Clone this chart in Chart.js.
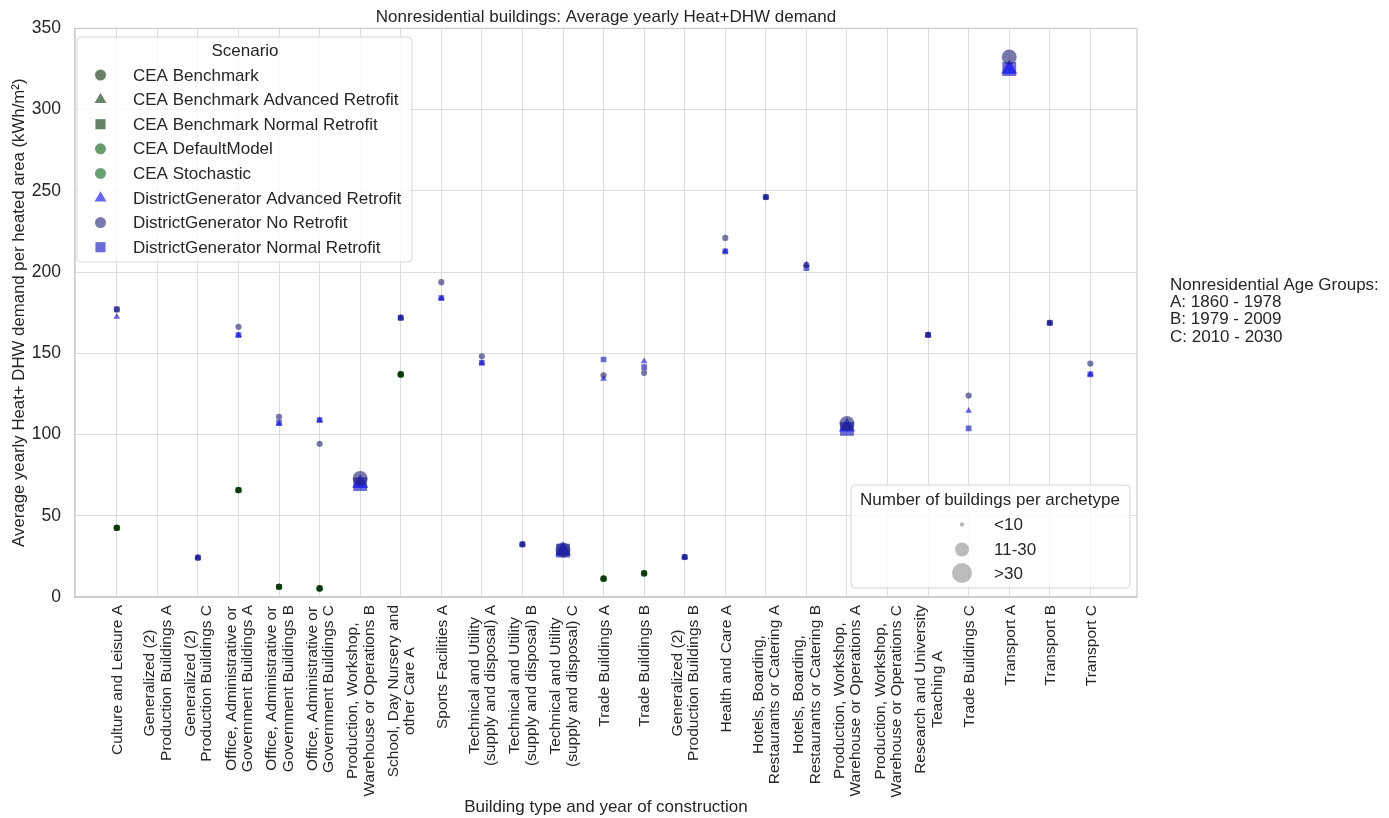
<!DOCTYPE html>
<html>
<head>
<meta charset="utf-8">
<title>Nonresidential buildings: Average yearly Heat+DHW demand</title>
<script src="https://cdn.jsdelivr.net/npm/chart.js@4.4.1/dist/chart.umd.min.js"></script>
<style>
  html, body { margin: 0; padding: 0; background: #fff; }
  #wrap { width: 1389px; height: 818px; }
</style>
</head>
<body>
<div id="wrap"><canvas id="chart"></canvas></div>
<script>
// x categories (building type + age group)
const categories = [
  'Culture and Leisure A',
  ['Generalized (2)', 'Production Buildings A'],
  ['Generalized (2)', 'Production Buildings C'],
  ['Office, Administrative or', 'Government Buildings A'],
  ['Office, Administrative or', 'Government Buildings B'],
  ['Office, Administrative or', 'Government Buildings C'],
  ['Production, Workshop,', 'Warehouse or Operations B'],
  ['School, Day Nursery and', 'other Care A'],
  'Sports Facilities A',
  ['Technical and Utility', '(supply and disposal) A'],
  ['Technical and Utility', '(supply and disposal) B'],
  ['Technical and Utility', '(supply and disposal) C'],
  'Trade Buildings A',
  'Trade Buildings B',
  ['Generalized (2)', 'Production Buildings B'],
  'Health and Care A',
  ['Hotels, Boarding,', 'Restaurants or Catering A'],
  ['Hotels, Boarding,', 'Restaurants or Catering B'],
  ['Production, Workshop,', 'Warehouse or Operations A'],
  ['Production, Workshop,', 'Warehouse or Operations C'],
  ['Research and University', 'Teaching A'],
  'Trade Buildings C',
  'Transport A',
  'Transport B',
  'Transport C'
]

// number of buildings per archetype (size class) for each category
const buildingGroup = ['<10', '<10', '<10', '<10', '<10', '<10', '>30', '<10', '<10', '<10', '<10', '>30', '<10',
  '<10', '<10', '<10', '<10', '<10', '>30', '<10', '<10', '<10', '>30', '<10', '<10']
const sizeGroups = ['<10', '11-30', '>30']

// kWh/m2 per category, null = no value
const ceaBenchmark = [42.6, null, null, 65.8, 6.3, 5.3, null, 137, null, null, null, null, 11.3, 14.6, null, null, null, null, null, null, null, null, null, null, null]
const ceaBenchmarkAdvanced = [42.6, null, null, 65.8, 6.3, 5.3, null, 137, null, null, null, null, 11.3, 14.6, null, null, null, null, null, null, null, null, null, null, null]
const ceaBenchmarkNormal = [42.6, null, null, 65.8, 6.3, 5.3, null, 137, null, null, null, null, 11.3, 14.6, null, null, null, null, null, null, null, null, null, null, null]
const ceaDefaultModel = [42.6, null, null, 65.8, 6.3, 5.3, null, 137, null, null, null, null, 11.3, 14.6, null, null, null, null, null, null, null, null, null, null, null]
const ceaStochastic = [42.6, null, null, 65.8, 6.3, 5.3, null, 137, null, null, null, null, 11.3, 14.6, null, null, null, null, null, null, null, null, null, null, null]
const dgAdvanced = [172.5, null, 24.2, 161.2, 106.4, 108.9, 70, 172, 184, 144.1, 32.4, 28.5, 134.3, 145, 24.6, 212.8, 246.2, 204.6, 104.8, null, 161.3, 114.6, 325, 168.7, 137]
const dgNoRetrofit = [177, null, 24.2, 166.3, 110.9, 94.3, 73, 171.8, 193.8, 148.2, 32.4, 29, 136.4, 138, 24.6, 221, 246.2, 204.4, 106.8, null, 161.3, 124, 332.4, 168.7, 143.7]
const dgNormal = [177, null, 24.2, 161.2, 107.4, 108.9, 69.5, 172, 184, 144.1, 32.4, 28.5, 146.2, 141.5, 24.6, 212.8, 246.2, 202.4, 103.5, null, 161.3, 103.8, 325, 168.7, 137]

const FONT = '"Liberation Sans", Arial, Helvetica, sans-serif'
const TEXT = '#262626'

const series = [
  { label: 'CEA Benchmark', data: ceaBenchmark, style: 'circle', color: 'rgba(10,40,10,0.6)' },
  { label: 'CEA Benchmark Advanced Retrofit', data: ceaBenchmarkAdvanced, style: 'triangle', color: 'rgba(0,55,0,0.6)' },
  { label: 'CEA Benchmark Normal Retrofit', data: ceaBenchmarkNormal, style: 'rect', color: 'rgba(0,45,0,0.6)' },
  { label: 'CEA DefaultModel', data: ceaDefaultModel, style: 'circle', color: 'rgba(0,90,10,0.6)' },
  { label: 'CEA Stochastic', data: ceaStochastic, style: 'circle', color: 'rgba(0,100,20,0.6)' },
  { label: 'DistrictGenerator Advanced Retrofit', data: dgAdvanced, style: 'triangle', color: 'rgba(0,0,250,0.6)' },
  { label: 'DistrictGenerator No Retrofit', data: dgNoRetrofit, style: 'circle', color: 'rgba(30,30,115,0.6)' },
  { label: 'DistrictGenerator Normal Retrofit', data: dgNormal, style: 'rect', color: 'rgba(10,10,190,0.6)' }
]

const baseRadius = { '<10': 3.1, '11-30': 5.5, '>30': 7.5 }
function shapeRadius(style, r) {
  if (style === 'rect') return r * 1.3
  if (style === 'triangle') return r * 1.25
  return r
}

// drawing order: squares at the back, circles on top
const drawOrder = { circle: 1, triangle: 2, rect: 3 }

const datasets = series.map(s => ({
  label: s.label,
  data: s.data.map((v, i) => ({ x: i, y: v })).filter(p => p.y !== null),
  pointStyle: s.style,
  backgroundColor: s.color,
  borderWidth: 0,
  pointBorderWidth: 0,
  pointRadius: c => shapeRadius(s.style, baseRadius[buildingGroup[c.raw.x]]),
  order: drawOrder[s.style]
}))

function legendBox(ctx, x, y, w, h) {
  ctx.beginPath()
  ctx.roundRect(x, y, w, h, 4)
  ctx.fillStyle = 'rgba(255,255,255,0.8)'
  ctx.fill()
  ctx.strokeStyle = '#d6d6d6'
  ctx.lineWidth = 1
  ctx.stroke()
}

const extras = {
  id: 'extras',
  beforeDatasetsDraw(chart) {
    const ctx = chart.ctx, a = chart.chartArea
    ctx.save()
    ctx.strokeStyle = '#cccccc'
    ctx.lineWidth = 1.2
    ctx.strokeRect(a.left, a.top, a.right - a.left, a.bottom - a.top)
    ctx.restore()
  },
  afterDatasetsDraw(chart) {
    const ctx = chart.ctx, a = chart.chartArea
    ctx.save()

    // x tick labels: rotated, lines centred on the tick
    const xs = chart.scales.x
    ctx.font = '15.5px ' + FONT
    ctx.fillStyle = TEXT
    ctx.textAlign = 'center'
    ctx.textBaseline = 'middle'
    categories.forEach((c, i) => {
      const lines = Array.isArray(c) ? c : [c]
      const w = Math.max(...lines.map(t => ctx.measureText(t).width))
      const px = xs.getPixelForValue(i)
      lines.forEach((t, j) => {
        const off = (j - (lines.length - 1) / 2) * 16.5
        ctx.save()
        ctx.translate(px + off, a.bottom + 8 + w / 2)
        ctx.rotate(-Math.PI / 2)
        ctx.fillText(t, 0, 1)
        ctx.restore()
      })
    })

    ctx.font = '17px ' + FONT

    // scenario legend
    legendBox(ctx, 77, 37, 335, 225)
    ctx.fillStyle = TEXT
    ctx.textAlign = 'center'
    ctx.fillText('Scenario', 245, 51)
    ctx.textAlign = 'left'
    series.forEach((s, i) => {
      const y = 75 + i * 24.6
      ctx.fillStyle = s.color
      Chart.helpers.drawPoint(ctx, { pointStyle: s.style, rotation: 0, radius: shapeRadius(s.style, 5.5), borderWidth: 0 }, 100.5, y)
      ctx.fillStyle = TEXT
      ctx.fillText(s.label, 133, y + 1)
    })

    // size legend
    legendBox(ctx, 851, 485, 279, 103)
    ctx.fillStyle = TEXT
    ctx.textAlign = 'center'
    ctx.fillText('Number of buildings per archetype', 990, 500)
    ctx.textAlign = 'left'
    const legendRadius = [2.2, 7, 10]
    sizeGroups.forEach((g, i) => {
      const y = [524.5, 549.5, 573][i]
      ctx.fillStyle = 'rgba(150,150,150,0.65)'
      Chart.helpers.drawPoint(ctx, { pointStyle: 'circle', rotation: 0, radius: legendRadius[i], borderWidth: 0 }, 962, y)
      ctx.fillStyle = TEXT
      ctx.fillText(g, 994, y + 1)
    })

    // age group note
    const note = ['Nonresidential Age Groups:', 'A: 1860 - 1978', 'B: 1979 - 2009', 'C: 2010 - 2030']
    note.forEach((t, i) => ctx.fillText(t, 1170, 285 + i * 17.3))
    ctx.restore()
  }
}

new Chart(document.getElementById('chart'), {
  type: 'scatter',
  data: { datasets: datasets },
  plugins: [extras],
  options: {
    responsive: true,
    maintainAspectRatio: false,
    animation: false,
    layout: { padding: { left: 0, right: 252, top: 0, bottom: 0 } },
    plugins: {
      legend: { display: false },
      tooltip: { enabled: false },
      title: {
        display: true,
        fullSize: false,
        text: 'Nonresidential buildings: Average yearly Heat+DHW demand',
        color: TEXT,
        font: { size: 17, family: FONT, weight: 'normal' },
        padding: { top: 7, bottom: 1 }
      }
    },
    scales: {
      x: {
        type: 'linear',
        min: -1.03,
        max: 25.15,
        afterBuildTicks: s => { s.ticks = categories.map((c, i) => ({ value: i })) },
        afterFit: s => { s.height = 221 },
        ticks: { display: false, autoSkip: false },
        grid: { color: '#dddddd', drawTicks: false },
        border: { color: '#cccccc', width: 1.2 },
        title: {
          display: true,
          text: 'Building type and year of construction',
          color: TEXT,
          font: { size: 17, family: FONT },
          padding: { top: 2, bottom: 0 }
        }
      },
      y: {
        min: 0,
        max: 350,
        afterFit: s => { s.width = 75 },
        ticks: { stepSize: 50, padding: 14, color: TEXT, font: { size: 17.5, family: FONT } },
        grid: { color: '#dddddd', drawTicks: false },
        border: { color: '#cccccc', width: 1.2 },
        title: {
          display: true,
          text: 'Average yearly Heat+ DHW demand per heated area (kWh/m²)',
          color: TEXT,
          font: { size: 16.8, family: FONT },
          padding: { top: 9, bottom: 0 }
        }
      }
    }
  }
})
</script>
</body>
</html>
